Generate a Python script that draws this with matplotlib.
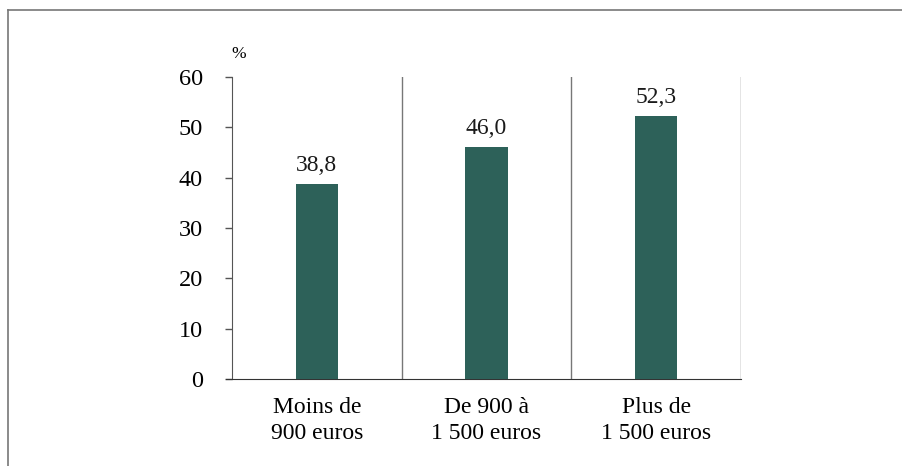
import numpy as np
import matplotlib.pyplot as plt
from matplotlib.lines import Line2D

categories = ['Moins de\n900 euros', 'De 900 à\n1 500 euros', 'Plus de\n1 500 euros']
values = [38.8, 46.0, 52.3]
value_labels = ['38,8', '46,0', '52,3']
yticks = [0, 10, 20, 30, 40, 50, 60]

plt.rcParams['font.family'] = ['Liberation Serif', 'DejaVu Serif']

fig = plt.figure(figsize=(9.03, 4.66), dpi=100)
ax = fig.add_axes([232 / 903, 1 - 379 / 466, (741 - 232) / 903, (379 - 77) / 466])

x = np.arange(len(categories))
bars = ax.bar(x, values, width=0.25, color='#2d6159', zorder=3)
for b, lab in zip(bars, value_labels):
    ax.text(b.get_x() + b.get_width() / 2, b.get_height() + 1.6, lab,
            ha='center', va='bottom', fontsize=17, color='#1a1a1a')

ax.set_xlim(-0.5, 2.5)
ax.set_ylim(0, 60)
ax.set_yticks(yticks)
ax.set_yticklabels([str(t) for t in yticks], fontsize=17.5)
ax.set_xticks(x)
ax.set_xticklabels(categories, fontsize=17, linespacing=1.3)
ax.tick_params(axis='x', length=0, pad=13)
ax.tick_params(axis='y', length=5, width=1, color='#555555', pad=16)

# separators between categories
for sep in [0.5, 1.5, 2.5]:
    ax.axvline(sep, color='#777777', lw=1, zorder=1)

for s in ['top', 'right']:
    ax.spines[s].set_visible(False)
ax.spines['left'].set_color('#555555')
ax.spines['bottom'].set_color('#333333')
ax.spines['bottom'].set_bounds(-0.535, 2.5)

fig.text(239 / 903, 1 - 54 / 466, '%', fontsize=12.5, ha='center', va='center')

# outer frame
fig.add_artist(Line2D([8 / 903, 1], [1 - 10 / 466, 1 - 10 / 466], color='#777777', lw=1.2))
fig.add_artist(Line2D([8 / 903, 8 / 903], [0, 1 - 10 / 466], color='#777777', lw=1.2))

fig.savefig('out.png', dpi=100)
